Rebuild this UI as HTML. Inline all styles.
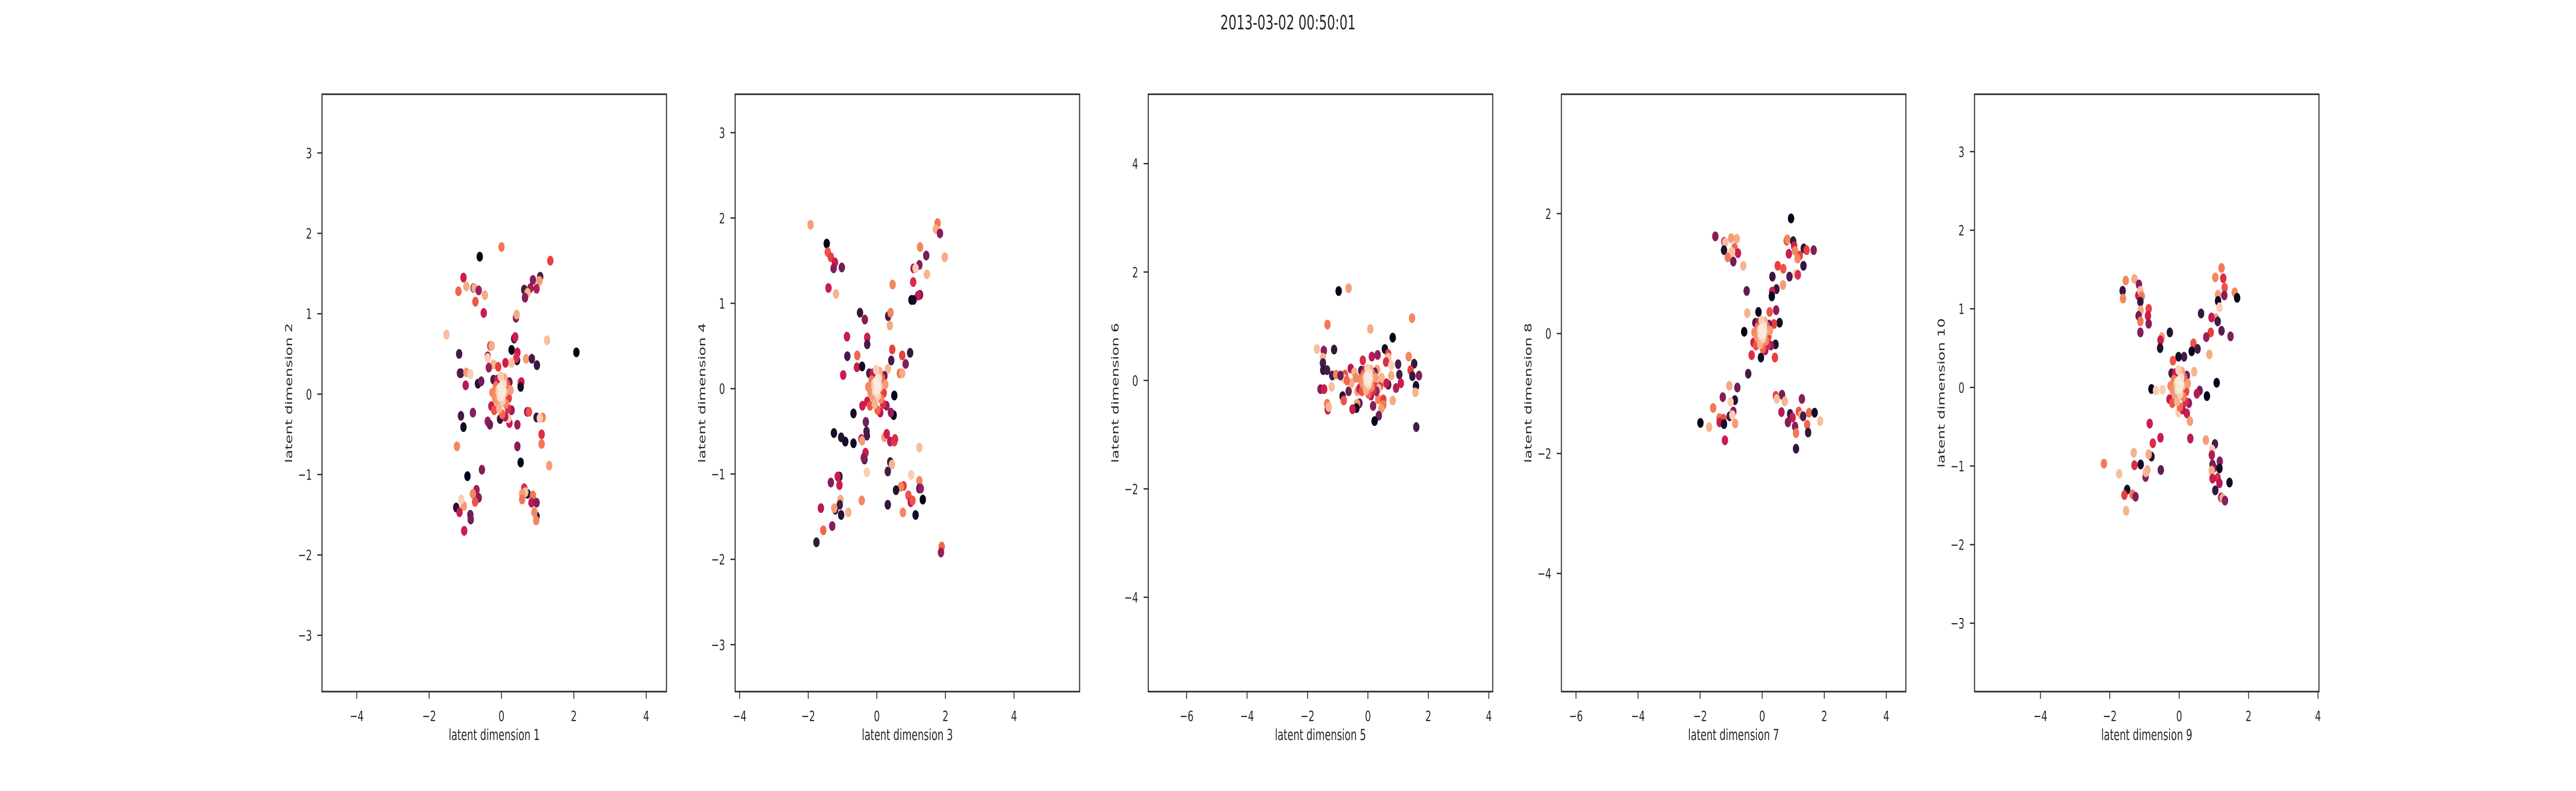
<!DOCTYPE html>
<html><head><meta charset="utf-8"><title>Latent dimensions scatter</title>
<style>
html,body{margin:0;padding:0;background:#fff;width:100%;height:100%;overflow:hidden;}
svg{display:block;width:100vw;height:100vh;font-family:"DejaVu Sans","Liberation Sans",sans-serif;}
</style></head>
<body>
<svg id="fig" viewBox="0 0 7680 1536" preserveAspectRatio="none" xmlns="http://www.w3.org/2000/svg">
<rect x="0" y="0" width="7680" height="1536" fill="#ffffff"/>
<text x="3840" y="57" text-anchor="middle" font-size="38" fill="#262626">2013-03-02 00:50:01</text>
</svg>
<script>
// ---- Data (x, y, colour value 0..1) ----
const coreCluster = [
[0.22,0.15,0.3],[-0.22,0.18,0.2],[0.28,-0.2,0.4],[-0.28,-0.15,0.5],[0.1,-0.28,0.45],
[0.2,-0.05,0.6],[-0.12,0.18,0.5],[0.18,-0.18,0.55],[-0.2,-0.2,0.65],[0.15,0.12,0.7],
[0.02,-0.25,0.7],[-0.15,0.1,0.75],[0.12,-0.12,0.8],[-0.25,0.02,0.8],[-0.18,-0.05,0.82],
[-0.1,-0.1,0.85],[0.25,0.05,0.85],[0.08,0.2,0.88],[-0.06,-0.18,0.9],[0.1,0.02,0.9],
[-0.08,0.06,0.93],[0.03,-0.08,0.95],[-0.02,0.22,0.95],[-0.05,-0.03,0.97],[0.06,0.12,0.98],
[0.05,0.05,0.98],[0.01,-0.02,0.99],[-0.03,0.08,1],[0.04,0.02,1],[0,0,1]
];
const panel1Points = [
[-0.60,1.71,0],[0.0,1.83,0.75],[1.35,1.66,0.6],[-1.05,1.45,0.5],[-0.97,1.34,0.88],[-1.19,1.28,0.7],[-0.77,1.32,0.2],[-0.75,1.32,0.88],[-0.63,1.29,0.4],[-0.46,1.23,0.88],[-0.72,1.15,0.65],[-0.49,1.01,0.5],
[1.07,1.46,0.2],[1.05,1.41,0.85],[0.87,1.42,0.35],[0.63,1.30,0.2],[0.80,1.32,0.4],[0.97,1.31,0.45],[0.72,1.26,0.9],[0.65,1.20,0.35],[0.40,0.95,0.35],[0.42,0.99,0.88],
[-1.52,0.74,0.92],[1.26,0.67,0.92],[2.07,0.52,0],[0.35,0.69,0.2],[0.38,0.71,0.5],[0.28,0.55,0],[0.44,0.52,0.5],[0.43,0.42,0.1],[0.41,0.45,0.55],[0.68,0.44,0.85],[0.84,0.44,0.2],[0.98,0.36,0.15],
[-1.17,0.50,0.2],[-1.15,0.26,0.35],[-1.12,0.26,0.2],[-0.97,0.27,0.85],[-0.86,0.25,0.95],[-0.99,0.11,0.45],[-0.65,0.13,0.1],[-0.56,0.16,0.3],[-0.31,0.60,0.6],[-0.27,0.60,0.88],[-0.38,0.47,0.35],[-0.38,0.45,0.95],
[-0.22,0.37,0.9],[-0.35,0.33,0.4],[-0.09,0.34,0.6],[0.11,0.39,0.5],[0.28,0.39,0.92],[0.51,0.14,0.88],[0.55,0.15,0.5],[0.53,0.09,0.05],
[-0.79,-0.23,0.35],[-1.12,-0.27,0.2],[-1.05,-0.41,0.05],[-1.23,-0.65,0.8],[-0.38,-0.34,0.4],[-0.32,-0.38,0.3],[-0.04,-0.31,0.15],[0.22,-0.36,0.5],[0.19,-0.30,0.95],[0.44,-0.38,0.4],[0.44,-0.65,0.35],
[0.71,-0.22,0.4],[0.76,-0.22,0.65],[0.97,-0.29,0.15],[1.14,-0.29,0.8],[1.06,-0.30,0.95],[1.11,-0.50,0.55],[1.11,-0.62,0.75],[1.32,-0.89,0.85],[0.53,-0.85,0],[-0.54,-0.94,0.35],[-0.94,-1.02,0],
[-0.69,-1.19,0.4],[-0.79,-1.24,0.8],[-0.63,-1.29,0.35],[-0.73,-1.34,0.65],[-1.04,-1.39,0.85],[-1.11,-1.31,0.95],[-1.25,-1.41,0.1],[-1.16,-1.47,0.5],[-0.86,-1.50,0.3],[-0.85,-1.56,0.3],[-1.03,-1.70,0.5],
[0.63,-1.17,0.55],[0.72,-1.24,0.1],[0.66,-1.22,0.92],[0.57,-1.24,0.85],[0.57,-1.31,0.75],[0.87,-1.26,0.75],[0.83,-1.35,0.45],[0.97,-1.35,0.35],[0.97,-1.52,0.1],[0.91,-1.47,0.8],[0.96,-1.57,0.8]
];
const panel2Points = [
[-1.93,1.92,0.85],[-1.46,1.70,0],[-1.43,1.60,0.65],[-1.34,1.54,0.6],[-1.22,1.48,0.5],[-1.26,1.41,0.35],[-1.02,1.42,0.3],[-1.41,1.18,0.5],[-1.19,1.11,0.9],
[1.77,1.94,0.75],[1.72,1.87,0.88],[1.84,1.82,0.35],[1.98,1.54,0.88],[1.26,1.66,0.8],[1.44,1.56,0.3],[1.24,1.45,0.35],[1.07,1.41,0.45],[1.13,1.41,0.95],[1.46,1.34,0.9],[1.06,1.25,0.55],[0.46,1.22,0.8],[1.26,1.10,0.3],[1.20,1.09,0.5],[1.01,1.04,0],[1.07,1.04,0.05],
[-0.49,0.89,0.15],[-0.35,0.81,0.35],[0.33,0.85,0.2],[0.40,0.89,0.8],[0.38,0.74,0.88],[-0.87,0.61,0.5],[-0.28,0.60,0.5],[-0.28,0.52,0.2],[-0.86,0.38,0.2],[-0.57,0.39,0.7],[0.45,0.46,0.6],[0.74,0.39,0.6],[0.97,0.42,0.15],[0.84,0.29,0.35],[0.42,0.33,0.2],[0.67,0.18,0.75],[0.74,0.18,0.88],
[-0.98,0.16,0.5],[-0.58,0.25,0.5],[-0.43,0.26,0.05],[0.32,0.23,0.9],[0.51,-0.08,0],[-0.68,-0.29,0.05],[0.49,-0.31,0],[0.41,-0.28,0.4],[-0.32,-0.39,0.3],[-0.42,-0.20,0.5],
[-1.25,-0.52,0.05],[-1.04,-0.57,0.1],[-0.92,-0.62,0.05],[-0.68,-0.64,0.05],[-0.30,-0.50,0.2],[-0.29,-0.55,0.2],[-0.45,-0.59,0.45],[-0.43,-0.61,0.85],[0.22,-0.57,0.85],[0.29,-0.53,0.5],[0.39,-0.62,0.45],[0.51,-0.62,0.6],[0.53,-0.59,0.55],[1.24,-0.69,0.92],
[-0.33,-0.75,0.5],[-0.36,-0.83,0.2],[-0.38,-0.81,0.35],[-0.29,-0.98,0.95],[0.39,-0.86,0.2],[0.44,-0.89,0.9],[0.32,-0.97,0.2],[1.0,-1.01,0.95],[1.24,-1.08,0.8],[1.24,-1.17,0.15],[1.28,-1.17,0.4],[0.78,-1.14,0.6],[0.70,-1.15,0.8],[0.56,-1.19,0.1],[0.92,-1.25,0.65],[0.99,-1.33,0.45],[1.04,-1.31,0.65],[1.34,-1.30,0],[-0.44,-1.31,0.8],[0.32,-1.36,0.15],[0.76,-1.45,0.8],[1.13,-1.48,0.05],
[-1.09,-1.03,0.1],[-1.14,-1.03,0.5],[-1.09,-1.13,0.5],[-1.34,-1.10,0.35],[-1.06,-1.30,0.88],[-1.08,-1.36,0.2],[-1.21,-1.42,0.2],[-1.24,-1.40,0.85],[-1.04,-1.48,0.1],[-0.83,-1.45,0.9],[-1.63,-1.40,0.45],[-1.30,-1.61,0.35],[-1.56,-1.66,0.7],[-1.76,-1.80,0.15],[1.89,-1.85,0.7],[1.87,-1.92,0.4]
];
const panel3Points = [
[-0.97,1.65,0],[-0.64,1.70,0.85],[-1.34,1.03,0.75],[1.46,1.15,0.8],[0.08,0.95,0.88],[0.82,0.79,0],[0.56,0.58,0.05],[-1.69,0.58,0.92],[-1.46,0.55,0.35],[-1.12,0.57,0.15],[-1.49,0.42,0.9],[-1.49,0.32,0.2],[-1.48,0.19,0.15],[-1.35,0.19,0.2],
[-1.18,0.09,0.2],[-1.05,0.11,0.8],[-0.76,0.11,0.65],[-0.57,0.22,0.45],[-0.17,0.37,0.55],[0.13,0.44,0.45],[0.32,0.47,0.4],[0.67,0.49,0.6],[0.67,0.42,0.92],[0.60,0.34,0.55],[0.77,0.28,0.95],[1.00,0.30,0.2],[1.35,0.44,0.8],[1.53,0.31,0.15],[1.41,0.19,0.6],[1.04,0.11,0.2],[0.77,0.09,0.88],[1.69,0.09,0.35],[1.47,0.08,0.15],
[0.67,-0.08,0.2],[0.61,-0.05,0.5],[0.93,-0.14,0.45],[1.09,-0.05,0.5],[1.59,-0.10,0.05],[1.57,-0.22,0.9],[0.34,-0.35,0.8],[0.51,-0.35,0.6],[0.51,-0.45,0.75],[0.44,-0.52,0.85],[0.17,-0.47,0.35],[0.82,-0.37,0.88],[0.36,-0.65,0.3],[0.22,-0.75,0],[1.60,-0.86,0.2],
[-1.57,-0.16,0.35],[-1.45,-0.16,0.5],[-1.20,-0.12,0.92],[-0.84,-0.29,0.1],[-0.80,-0.37,0.65],[-1.35,-0.43,0.75],[-1.33,-0.54,0.5],[-1.30,-0.49,0.9],[-0.64,-0.20,0.3],[-0.55,-0.05,0.88],[-0.80,0.03,0.95],[-0.28,-0.42,0.3],[-0.36,-0.43,0.85],[-0.38,-0.51,0.05],[-0.51,-0.53,0.5],[-0.91,0.09,0.3],[-0.70,0.0,0.7],[0.40,-0.10,0.6],
[-0.45,0.15,0.9],[-0.35,-0.2,0.85],[0.3,0.2,0.85],[0.35,-0.15,0.92],[-0.4,0.05,0.8],[0.45,0.05,0.9]
];
const panel4Points = [
[0.93,1.92,0],[-1.51,1.62,0.35],[-1.22,1.53,0.5],[-1.19,1.52,0.92],[-1.0,1.59,0.85],[-0.82,1.58,0.88],[-1.23,1.39,0.1],[-0.89,1.43,0.7],[-0.78,1.34,0.5],[-1.01,1.35,0.95],[-0.97,1.36,0.92],[-1.11,1.27,0.75],[-0.93,1.20,0.3],[-0.61,1.13,0.9],
[0.79,1.55,0.6],[0.81,1.57,0.8],[1.0,1.54,0.15],[1.03,1.46,0.5],[0.86,1.33,0.5],[1.06,1.38,0.8],[1.21,1.30,0.6],[1.14,1.25,0.8],[1.34,1.42,0.15],[1.43,1.39,0.6],[1.66,1.39,0.35],[1.33,1.13,0.15],[0.50,1.13,0.6],[0.68,1.08,0.65],[1.08,1.00,0.95],[1.15,0.98,0.55],
[0.33,0.95,0.15],[0.88,0.95,0.2],[0.67,0.81,0.85],[0.46,0.74,0.15],[0.32,0.70,0.5],[-0.50,0.71,0.25],[0.31,0.62,0],[0.45,0.39,0.35],[-0.48,0.34,0.9],[-0.12,0.36,0],[0.24,0.36,0.65],[0.56,0.18,0.05],[0.38,0.16,0.6],[-0.58,0.03,0],[0.43,-0.18,0.1],[0.41,-0.40,0.6],[-0.34,-0.36,0.55],[-0.04,-0.40,0.05],[-0.45,-0.67,0.2],
[-0.80,-0.90,0.3],[-1.06,-0.87,0.88],[-1.27,-1.06,0.35],[-0.88,-1.11,0.1],[-1.02,-1.14,0.95],[-1.58,-1.24,0.75],[-0.93,-1.30,0.35],[-1.05,-1.38,0.2],[-0.96,-1.36,0.95],[-1.38,-1.41,0.75],[-1.25,-1.42,0.65],[-1.37,-1.48,0.5],[-1.23,-1.51,0.05],[-0.87,-1.50,0.85],[-1.99,-1.49,0],[-1.71,-1.56,0.9],[-1.20,-1.78,0.5],
[0.44,-1.04,0.6],[0.64,-1.02,0.3],[0.47,-1.09,0.92],[0.73,-1.13,0.9],[1.28,-1.09,0.35],[0.62,-1.31,0.45],[0.90,-1.34,0.15],[0.98,-1.40,0.5],[0.83,-1.48,0.35],[1.18,-1.30,0.65],[1.26,-1.36,0.88],[1.32,-1.38,0.2],[1.51,-1.32,0.7],[1.69,-1.32,0.05],[1.45,-1.52,0.7],[1.87,-1.46,0.92],[1.06,-1.55,0.35],[1.09,-1.66,0.75],[1.48,-1.65,0.15],[1.09,-1.92,0.15]
];
const panel5Points = [
[1.22,1.52,0.75],[1.04,1.40,0.8],[1.27,1.39,0.55],[1.31,1.27,0.65],[1.12,1.18,0.85],[1.30,1.17,0.35],[1.60,1.21,0.8],[1.67,1.14,0],[1.12,1.10,0.05],[1.16,1.02,0.95],[1.06,0.88,0.85],[1.11,0.84,0.2],[0.93,0.89,0.5],[0.63,0.94,0.15],[1.22,0.72,0.25],[1.48,0.65,0.35],[0.91,0.70,0.6],[0.78,0.64,0.4],[0.87,0.42,0.88],
[0.41,0.56,0.65],[0.53,0.49,0.2],[0.36,0.46,0],[0.14,0.39,0.2],[-0.02,0.39,0.05],[-0.27,0.70,0.1],[-0.50,0.64,0.85],[-0.54,0.60,0.5],[-0.55,0.50,0.1],[-0.18,0.34,0.65],[0.43,0.20,0.9],
[-1.54,1.36,0.8],[-1.29,1.38,0.88],[-1.16,1.31,0.35],[-1.63,1.23,0.15],[-1.18,1.17,0.5],[-1.12,1.23,0.92],[-1.08,1.16,0.75],[-1.62,1.13,0.8],[-1.12,1.09,0.15],[-0.88,1.0,0.6],[-1.11,0.98,0.88],[-1.17,0.91,0.3],[-0.90,0.91,0.5],[-1.12,0.84,0.75],[-0.88,0.81,0.35],[-1.12,0.70,0.35],
[-0.80,-0.02,0],[-0.67,-0.04,0.95],[-0.48,-0.03,0.95],[1.08,0.06,0],[0.59,-0.04,0.3],[0.80,-0.11,0],[0.51,-0.08,0.45],[0.22,-0.33,0.5],[-0.02,-0.32,0.95],[0.31,-0.43,0.85],[-0.85,-0.46,0.5],[-0.54,-0.64,0.5],[0.32,-0.65,0.45],[-0.76,-0.71,0.55],
[-0.80,-0.88,0.1],[-0.88,-0.85,0.88],[-1.31,-0.83,0.9],[-1.11,-0.98,0.05],[-1.29,-0.99,0.55],[-0.53,-1.05,0.25],[-0.92,-1.05,0.88],[-0.97,-1.14,0.35],[-0.96,-1.08,0.9],[-1.73,-1.10,0.92],[-2.17,-0.97,0.75],[-1.50,-1.30,0.05],[-1.58,-1.37,0.6],[-1.35,-1.36,0.75],[-1.26,-1.39,0.35],[-1.53,-1.57,0.9],
[0.77,-0.67,0.85],[1.03,-0.72,0.2],[0.95,-0.79,0.95],[0.94,-0.86,0.45],[1.17,-0.94,0.35],[0.96,-0.98,0.3],[1.00,-1.02,0.35],[1.16,-1.03,0.05],[0.94,-1.06,0.88],[1.11,-1.15,0.55],[0.96,-1.16,0.5],[1.16,-1.22,0.45],[1.45,-1.21,0.05],[1.04,-1.31,0.15],[1.21,-1.40,0.4],[1.25,-1.41,0.88],[1.32,-1.44,0.35]
];
const xLabels = ["latent dimension 1","latent dimension 3","latent dimension 5","latent dimension 7","latent dimension 9"];
const yLabels = ["latent dimension 2","latent dimension 4","latent dimension 6","latent dimension 8","latent dimension 10"];
const xLimits = [[-4.96,4.56],[-4.13,5.91],[-7.27,4.13],[-6.47,4.63],[-5.90,4.03]];
const yLimits = [[-3.70,3.73],[-3.55,3.45],[-5.74,5.28],[-5.97,3.99],[-3.87,3.73]];
const xTicks = [[-4,-2,0,2,4],[-4,-2,0,2,4],[-6,-4,-2,0,2,4],[-6,-4,-2,0,2,4],[-4,-2,0,2,4]];
const yTicks = [[-3,-2,-1,0,1,2,3],[-3,-2,-1,0,1,2,3],[-4,-2,0,2,4],[-4,-2,0,2],[-3,-2,-1,0,1,2,3]];
const allPoints = [panel1Points,panel2Points,panel3Points,panel4Points,panel5Points];

// ---- rendering ----
const NS = "http://www.w3.org/2000/svg";
const svg = document.getElementById("fig");
const rocket = [[0,[3,5,26]],[0.1,[34,19,49]],[0.2,[69,28,71]],[0.3,[112,31,87]],[0.4,[156,29,91]],[0.5,[203,27,79]],[0.6,[232,63,63]],[0.7,[242,103,76]],[0.8,[244,135,94]],[0.9,[246,180,142]],[1,[250,235,221]]];
function colorFor(v){
  for(let i=1;i<rocket.length;i++){
    if(v<=rocket[i][0]){
      const a=rocket[i-1],b=rocket[i],t=(v-a[0])/(b[0]-a[0]);
      const c=a[1].map((q,k)=>Math.round(q+(b[1][k]-q)*t));
      return "rgb("+c.join(",")+")";
    }
  }
  return "rgb(250,235,221)";
}
function mk(tag,attrs,parent){const e=document.createElementNS(NS,tag);for(const k in attrs)e.setAttribute(k,attrs[k]);(parent||svg).appendChild(e);return e;}
function fmt(v){return v<0?"\u2212"+Math.abs(v):String(v);}
const TOP=183,BOTTOM=1343,WIDTH=1027,INK="#262626";
for(let p=0;p<5;p++){
  const L=960+p*1231.7,R=L+WIDTH;
  const g=mk("g",{});
  
  
  const xs=v=>L+(v-xLimits[p][0])/(xLimits[p][1]-xLimits[p][0])*(R-L);
  const ys=v=>BOTTOM-(v-yLimits[p][0])/(yLimits[p][1]-yLimits[p][0])*(BOTTOM-TOP);
  const pts=allPoints[p].concat(coreCluster);
  for(const d of pts){
    const c=mk("circle",{cx:xs(d[0]).toFixed(1),cy:ys(d[1]).toFixed(1),r:9.5,fill:colorFor(d[2])},g);
    
    
  }
  const frame=mk("rect",{x:L,y:TOP,width:R-L,height:BOTTOM-TOP,fill:"none",stroke:INK,"stroke-width":3},g);
  
  
  for(const t of xTicks[p]){
    const x=xs(t);
    const tk=mk("line",{x1:x,x2:x,y1:BOTTOM,y2:BOTTOM+14,stroke:INK,"stroke-width":2.5},g);
    
    
    const tl=mk("text",{x:x,y:1400,"text-anchor":"middle","font-size":28,fill:INK},g);
    tl.textContent=fmt(t);
    
    
  }
  for(const t of yTicks[p]){
    const y=ys(t);
    const tk=mk("line",{x1:L-14,x2:L,y1:y,y2:y,stroke:INK,"stroke-width":2.5},g);
    
    
    const tl=mk("text",{x:L-30,y:y+10,"text-anchor":"end","font-size":28,fill:INK},g);
    tl.textContent=fmt(t);
    
    
  }
  const xl=mk("text",{x:(L+R)/2,y:1437,"text-anchor":"middle","font-size":29,fill:INK},g);
  xl.textContent=xLabels[p];
  
  
  const yx=L-89,yc=(TOP+BOTTOM)/2;
  const yl=mk("text",{x:yx,y:yc,"text-anchor":"middle","font-size":29,fill:INK,transform:"rotate(-90 "+yx+" "+yc+")"},g);
  yl.textContent=yLabels[p];
  
  
}
</script>
</body></html>
